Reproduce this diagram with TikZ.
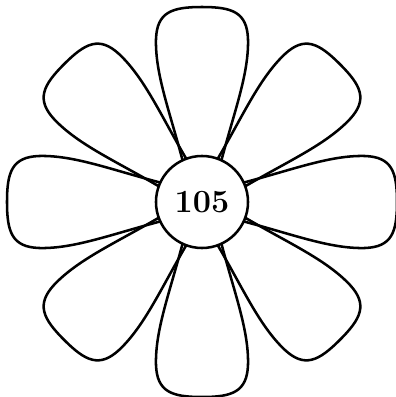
\documentclass[tikz,border=0pt]{standalone}
\usetikzlibrary{calc}

\begin{document}
\begin{tikzpicture}[x=0.025cm, y=0.025cm, line join=round,
    outline/.style={draw=black, line width=1.8pt},
    petal/.pic={
        \draw[outline] (-19,40) .. controls (-32,90) and (-47,128) .. (-46,163)
            .. controls (-45,190) and (-30,195) .. (0,195)
            .. controls (30,195) and (45,190) .. (46,163)
            .. controls (47,128) and (32,90) .. (19,40);
    },
    hub/.style={outline, fill=white, circle, minimum size=2.3cm, inner sep=0pt,
        font=\fontsize{23}{27}\selectfont\bfseries},
]
    \useasboundingbox (-202,-195) rectangle (194,202);

    % --- eight petals round the middle ---
    \foreach \a in {0,45,...,315}
        \pic[rotate=\a] {petal};

    % --- centre disc ---
    \node[hub] (centre) at (0,0) {105};

\end{tikzpicture}
\end{document}
